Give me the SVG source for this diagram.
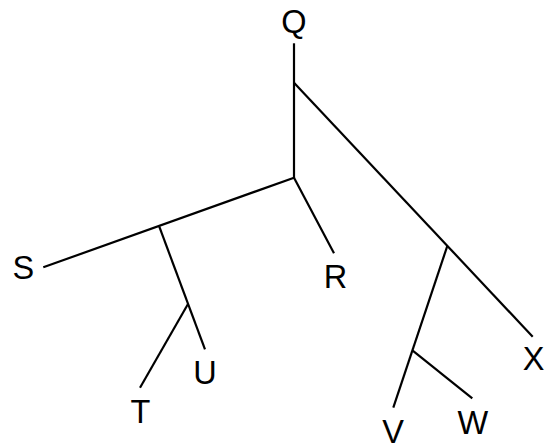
<svg xmlns="http://www.w3.org/2000/svg" width="548" height="445" viewBox="0 0 548 445">
<style>
.e{stroke:#000;stroke-width:2.2;fill:none;stroke-linecap:butt}
.l{font-family:"Liberation Sans",Arial,sans-serif;font-size:32.5px;fill:#000;text-anchor:middle}
</style>
<rect width="548" height="445" fill="#fff"/>
<g id="edges">
<line class="e" x1="294" y1="43.3" x2="294" y2="178"/>
<line class="e" x1="294" y1="82.7" x2="532.7" y2="336.7"/>
<line class="e" x1="294" y1="177.7" x2="43.3" y2="267.3"/>
<line class="e" x1="294" y1="177.7" x2="334" y2="253.3"/>
<line class="e" x1="159.3" y1="226.7" x2="205" y2="349.3"/>
<line class="e" x1="188" y1="304" x2="140" y2="387.7"/>
<line class="e" x1="447.3" y1="246" x2="393.3" y2="407.7"/>
<line class="e" x1="412.7" y1="350.7" x2="472.3" y2="398.3"/>
</g>
<g id="Q"><text class="l" x="294" y="33">Q</text></g>
<g id="R"><text class="l" x="335.5" y="288.3">R</text></g>
<g id="S"><text class="l" x="23.3" y="279.3">S</text></g>
<g id="T"><text class="l" x="140.5" y="422.7">T</text></g>
<g id="U"><text class="l" x="205" y="384.3">U</text></g>
<g id="V"><text class="l" x="393" y="443">V</text></g>
<g id="W"><text class="l" x="472.8" y="434">W</text></g>
<g id="X"><text class="l" x="533.7" y="370">X</text></g>
</svg>
